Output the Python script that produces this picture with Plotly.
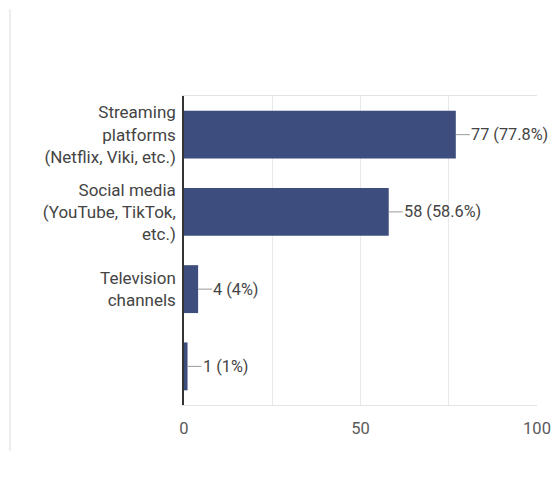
import plotly.graph_objects as go

categories = [
    "Streaming<br>platforms<br>(Netflix, Viki, etc.)",
    "Social media<br>(YouTube, TikTok,<br>etc.)",
    "Television<br>channels",
    " ",
]
counts = [77, 58, 4, 1]
percents = ["77.8%", "58.6%", "4%", "1%"]
x_ticks = [0, 50, 100]

BAR_COLOR = "#3d4d7e"
TEXT_COLOR = "#444444"
FONT = "Roboto, Arial, sans-serif"
FS = 17

fig = go.Figure(
    go.Bar(
        x=counts,
        y=categories,
        orientation="h",
        width=0.62,
        marker=dict(color=BAR_COLOR, line=dict(width=0)),
        hoverinfo="skip",
    )
)

# value labels with a short grey connector from the bar end
for cat, n, pct in zip(categories, counts, percents):
    fig.add_annotation(
        x=n, y=cat, xref="x", yref="y",
        text=f"{n} ({pct})",
        showarrow=True, arrowhead=0, arrowwidth=1, arrowcolor="#9a9a9a",
        ax=14, ay=0, axref="pixel", ayref="pixel",
        xanchor="left", borderpad=0, standoff=0,
        font=dict(family=FONT, size=16.3, color=TEXT_COLOR),
    )

# thin page border on the left
fig.add_shape(
    type="line", xref="paper", yref="paper",
    x0=-0.493, x1=-0.493, y0=-0.15, y1=1.28,
    line=dict(color="#dcdcdc", width=1),
)

fig.update_layout(
    width=552, height=479,
    margin=dict(l=184, r=15, t=96, b=74, autoexpand=False),
    paper_bgcolor="white", plot_bgcolor="white",
    showlegend=False,
    font=dict(family=FONT, size=FS, color=TEXT_COLOR),
)
fig.update_xaxes(
    range=[0, 100], tickvals=x_ticks,
    showgrid=True, gridcolor="#e9e9e9", gridwidth=1,
    showline=True, mirror=True, linecolor="#e4e4e4",
    zeroline=False, ticks="", ticklen=0, automargin=False,
    ticklabelstandoff=8,
    tickfont=dict(family=FONT, size=16.5, color="#5a5a5a"),
    minor=dict(dtick=25, showgrid=True, gridcolor="#e9e9e9"),
)
fig.update_yaxes(
    categoryorder="array", categoryarray=categories[::-1],
    showline=True, linecolor="#333333", linewidth=1.5,
    showgrid=False, ticks="", ticklabelstandoff=3, automargin=False,
    tickfont=dict(family=FONT, size=FS, color=TEXT_COLOR),
)

fig.write_html("out.html")
